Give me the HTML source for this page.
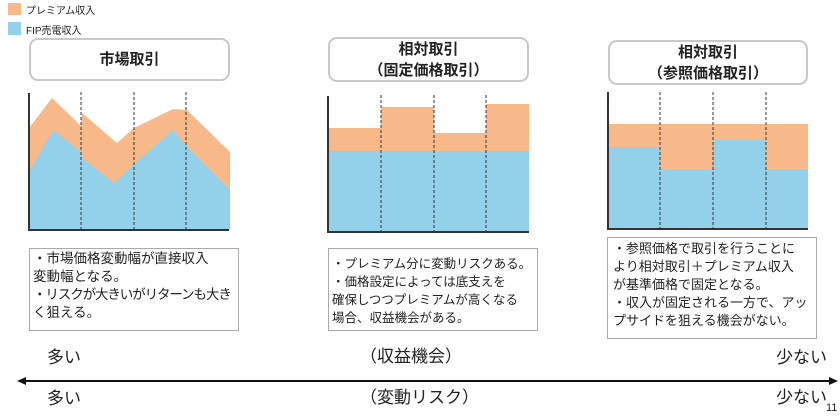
<!DOCTYPE html>
<html><head><meta charset="utf-8"><style>
body{margin:0;width:840px;height:416px;background:#fff;position:relative;overflow:hidden;font-family:"Liberation Sans","Noto Sans CJK JP",sans-serif;color:#222}
.a{position:absolute}
.tb{position:absolute;border:2.5px solid #c8c8c8;border-radius:9px;box-sizing:border-box;text-align:center;font-weight:bold;font-size:15px;line-height:21px;display:flex;align-items:center;justify-content:center;background:#fff}
.nb{position:absolute;border:1px solid #aaa;box-sizing:border-box;line-height:18px;padding:0 5px;white-space:nowrap;overflow:hidden}
.lb{position:absolute;font-size:17px;line-height:18px}
</style></head><body>
<div class="a" style="left:8px;top:3px;width:13px;height:12px;background:#f8b98a"></div>
<div class="a" style="left:26px;top:2px;font-size:10px">プレミアム収入</div>
<div class="a" style="left:8px;top:22px;width:13px;height:13px;background:#93d1ea"></div>
<div class="a" style="left:26px;top:22px;font-size:10px">FIP売電収入</div>

<div class="tb" style="left:29px;top:38px;width:201px;height:43px">市場取引</div>
<div class="tb" style="left:328px;top:37px;width:201px;height:45px">相対取引<br>（固定価格取引）</div>
<div class="tb" style="left:608px;top:40px;width:200px;height:45px">相対取引<br>（参照価格取引）</div>

<svg class="a" style="left:0;top:0" width="840" height="416">
<polygon fill="#f8b98a" points="29,128 52,98 81,126 82,113 117,143 134,128 173,109 187,110 230,152 230,230 29,230"/>
<polygon fill="#93d1ea" points="29,172 53,130 81,152 82,158 114,183 134,164 173,130 187,147 230,190 230,230 29,230"/>
<g stroke="#333" stroke-width="1" stroke-dasharray="3,2"><line x1="81" y1="92" x2="81" y2="230"/><line x1="134" y1="92" x2="134" y2="230"/><line x1="186" y1="92" x2="186" y2="230"/></g>
<path d="M29,93 V230 H229" fill="none" stroke="#333" stroke-width="2"/>
<rect x="328" y="128" width="53" height="104" fill="#f8b98a"/>
<rect x="381" y="107" width="53" height="125" fill="#f8b98a"/>
<rect x="434" y="133" width="52" height="99" fill="#f8b98a"/>
<rect x="486" y="104" width="43" height="128" fill="#f8b98a"/>
<rect x="328" y="151" width="201" height="81" fill="#93d1ea"/>
<g stroke="#333" stroke-width="1" stroke-dasharray="3,2"><line x1="381" y1="95" x2="381" y2="232"/><line x1="434" y1="95" x2="434" y2="232"/><line x1="486" y1="95" x2="486" y2="232"/></g>
<path d="M328,96 V232 H529" fill="none" stroke="#333" stroke-width="2"/>
<rect x="608" y="124" width="200" height="105" fill="#f8b98a"/>
<rect x="608" y="147" width="52" height="82" fill="#93d1ea"/>
<rect x="660" y="169" width="53" height="60" fill="#93d1ea"/>
<rect x="713" y="140" width="53" height="89" fill="#93d1ea"/>
<rect x="766" y="169" width="42" height="60" fill="#93d1ea"/>
<g stroke="#333" stroke-width="1" stroke-dasharray="3,2"><line x1="660" y1="92" x2="660" y2="229"/><line x1="713" y1="92" x2="713" y2="229"/><line x1="766" y1="92" x2="766" y2="229"/></g>
<path d="M608,92 V229 H808" fill="none" stroke="#333" stroke-width="2"/>
<line x1="24" y1="381" x2="830" y2="381" stroke="#111" stroke-width="2"/>
<polygon points="17,381 26,377 26,385" fill="#111"/>
<polygon points="838,381 829,377 829,385" fill="#111"/>
</svg>

<div class="nb" style="left:29px;top:248px;width:210px;height:83px;font-size:13.5px;padding-top:1px;padding-left:3px">・市場価格変動幅が直接収入<br>変動幅となる。<br><span style="letter-spacing:-1.1px">・リスクが大きいがリターンも大き</span><br>く狙える。</div>
<div class="nb" style="left:328px;top:248px;width:210px;height:83px;font-size:12.5px;padding-top:6px;padding-left:3px">・プレミアム分に変動リスクある。<br>・価格設定によっては底支えを<br>確保しつつプレミアムが高くなる<br>場合、収益機会がある。</div>
<div class="nb" style="left:607px;top:237px;width:210px;height:102px;font-size:13px;padding-top:2px;padding-left:5px">・参照価格で取引を行うことに<br>より相対取引＋プレミアム収入<br>が基準価格で固定となる。<br>・収入が固定される一方で、アッ<br>プサイドを狙える機会がない。</div>

<div class="lb" style="left:47px;top:349px">多い</div>
<div class="lb" style="left:47px;top:390px">多い</div>
<div class="lb" style="left:360px;top:348px">（収益機会）</div>
<div class="lb" style="left:360px;top:389px">（変動リスク）</div>
<div class="lb" style="left:776px;top:349px">少ない</div>
<div class="lb" style="left:776px;top:389px">少ない</div>
<div class="a" style="left:826px;top:402px;font-size:11px">11</div>
</body></html>
